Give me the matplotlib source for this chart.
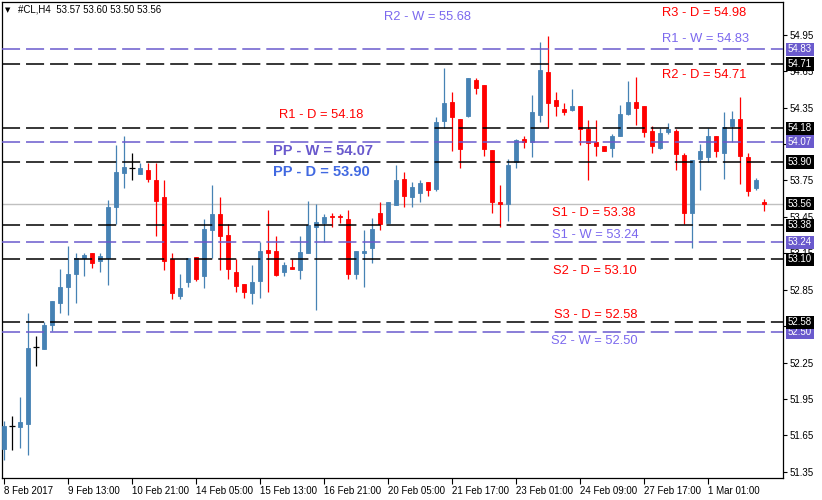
import matplotlib
matplotlib.use('Agg')
import numpy as np
import matplotlib.pyplot as plt
import matplotlib.transforms as mtransforms

plt.rcParams['font.family'] = ['Liberation Sans', 'DejaVu Sans']
plt.rcParams['lines.scale_dashes'] = False

# H4 candles, 8 Feb 2017 -> 1 Mar 2017
opens = [51.54, 51.73, 51.72, 51.74, 52.38, 52.36, 52.56, 52.74, 52.87, 52.98,
         53.11, 53.15, 53.09, 53.11, 53.53, 53.81, 53.85, 53.80, 53.84, 53.75,
         53.61, 53.10, 52.80, 52.91, 53.12, 52.96, 53.34, 53.47, 53.30, 53.00,
         52.90, 52.82, 52.92, 53.18, 53.17, 53.00, 53.04, 53.01, 53.15, 53.37,
         53.40, 53.46, 53.46, 53.43, 52.98, 53.15, 53.19, 53.48, 53.40, 53.55,
         53.76, 53.61, 53.65, 53.74, 53.68, 54.24, 54.40, 54.26, 54.28, 54.58,
         54.54, 54.00, 53.57, 53.56, 53.90, 54.09, 54.07, 54.29, 54.64, 54.41,
         54.34, 54.33, 54.36, 54.17, 54.07, 54.03, 54.02, 54.12, 54.30, 54.40,
         54.36, 54.16, 54.02, 54.15, 54.16, 53.96, 53.48, 53.93, 53.94, 54.12,
         53.98, 54.20, 54.26, 53.94, 53.69, 53.57]
highs = [51.77, 51.81, 51.97, 52.66, 52.47, 52.58, 52.76, 53.02, 53.21, 53.15,
         53.15, 53.15, 53.15, 53.59, 54.04, 54.12, 53.98, 53.89, 53.89, 53.89,
         53.75, 53.15, 52.98, 53.11, 53.12, 53.43, 53.71, 53.61, 53.39, 53.10,
         52.90, 53.05, 53.24, 53.51, 53.29, 53.08, 53.10, 53.29, 53.58, 53.56,
         53.47, 53.48, 53.47, 53.51, 53.17, 53.34, 53.44, 53.57, 53.57, 53.88,
         53.82, 53.74, 53.75, 53.74, 54.27, 54.68, 54.48, 54.26, 54.59, 54.59,
         54.54, 54.00, 53.71, 53.93, 54.09, 54.12, 54.45, 54.89, 54.94, 54.48,
         54.39, 54.50, 54.36, 54.25, 54.25, 54.03, 54.13, 54.37, 54.57, 54.60,
         54.36, 54.20, 54.18, 54.22, 54.17, 53.98, 53.92, 54.05, 54.18, 54.12,
         54.31, 54.32, 54.44, 53.98, 53.77, 53.60]
lows = [51.45, 51.53, 51.55, 51.49, 52.22, 52.36, 52.51, 52.66, 52.64, 52.74,
        52.96, 53.03, 53.00, 52.89, 53.39, 53.69, 53.75, 53.80, 53.74, 53.29,
        53.01, 52.77, 52.77, 52.87, 52.92, 52.86, 53.11, 53.01, 52.94, 52.83,
        52.78, 52.73, 52.78, 52.83, 52.96, 52.96, 53.02, 52.94, 53.15, 52.68,
        53.24, 53.37, 53.40, 52.94, 52.94, 52.87, 53.07, 53.34, 53.40, 53.55,
        53.53, 53.53, 53.57, 53.62, 53.66, 54.18, 53.99, 53.85, 54.27, 54.46,
        53.95, 53.48, 53.37, 53.42, 53.85, 54.02, 53.94, 54.23, 54.18, 54.28,
        54.29, 54.32, 54.04, 53.75, 53.95, 53.99, 53.94, 54.12, 54.29, 54.21,
        54.11, 53.98, 54.01, 54.13, 53.84, 53.39, 53.19, 53.67, 53.90, 53.94,
        53.76, 54.07, 53.72, 53.62, 53.67, 53.50]
closes = [51.73, 51.73, 51.76, 52.37, 52.38, 52.56, 52.76, 52.87, 52.98, 53.11,
          53.14, 53.07, 53.13, 53.53, 53.82, 53.86, 53.85, 53.85, 53.76, 53.58,
          53.09, 52.82, 52.86, 53.11, 52.94, 53.35, 53.47, 53.29, 53.02, 52.88,
          52.83, 52.91, 53.17, 53.15, 52.97, 53.05, 53.02, 53.16, 53.38, 53.41,
          53.45, 53.45, 53.45, 52.98, 53.17, 53.17, 53.35, 53.39, 53.57, 53.75,
          53.62, 53.70, 53.73, 53.67, 54.23, 54.39, 54.27, 54.01, 54.59, 54.51,
          54.01, 53.57, 53.56, 53.88, 54.08, 54.07, 54.31, 54.66, 54.39, 54.36,
          54.31, 54.36, 54.17, 54.06, 54.03, 53.99, 54.12, 54.30, 54.40, 54.35,
          54.15, 54.03, 54.14, 54.17, 53.97, 53.48, 53.92, 53.99, 54.12, 53.99,
          54.19, 54.26, 53.95, 53.66, 53.75, 53.56]

time_labels = ['8 Feb 2017', '9 Feb 13:00', '10 Feb 21:00', '14 Feb 05:00',
               '15 Feb 13:00', '16 Feb 21:00', '20 Feb 05:00', '21 Feb 17:00',
               '23 Feb 01:00', '24 Feb 09:00', '27 Feb 17:00', '1 Mar 01:00']

# pivot levels
level_names = ['R2 - W', 'R3 - D', 'R1 - W', 'R2 - D', 'R1 - D', 'PP - W',
               'PP - D', 'S1 - D', 'S1 - W', 'S2 - D', 'S3 - D', 'S2 - W']
level_values = [55.68, 54.98, 54.83, 54.71, 54.18, 54.07,
                53.90, 53.38, 53.24, 53.10, 52.58, 52.50]
daily_lines = [54.71, 54.18, 53.90, 53.38, 53.10, 52.58]
weekly_lines = [54.83, 54.07, 53.24, 52.50]
last_price = 53.56

BULL = '#4682B4'
BEAR = '#FF0000'
W_COL = '#6A5ACD'

W, H = 822, 500
fig = plt.figure(figsize=(W / 100, H / 100), dpi=100)
ax = fig.add_axes([2 / W, 22 / H, 781 / W, 476 / H])
ax.set_xlim(-0.25, 97.375)
ax.set_ylim(51.299, 55.22)

o = np.array(opens)
c = np.array(closes)
x = np.arange(len(o))
cols = np.where(c > o, BULL, np.where(c < o, BEAR, 'black'))

ax.vlines(x, lows, highs, colors=cols, lw=0.9, zorder=2)
body = c != o
ax.bar(x[body], np.abs(c - o)[body], bottom=np.minimum(o, c)[body], width=0.56,
       color=cols[body], edgecolor=cols[body], linewidth=0.6, zorder=3)
ax.hlines(o[~body], x[~body] - 0.4, x[~body] + 0.4, colors='black', lw=0.9, zorder=3)

# levels
ax.axhline(last_price, color='#C0C0C0', lw=1.0, zorder=1)
for v in daily_lines:
    ax.axhline(v, color='black', lw=1.1, dashes=(13, 4.3), zorder=4)
for v in weekly_lines:
    ax.axhline(v, color=W_COL, lw=1.1, dashes=(13, 4.3), zorder=4)

# level captions (pixel anchors)
label_pos = [(384, 17), (662, 13), (662, 39), (662, 75), (279, 115), (273, 151),
             (273, 172), (552, 213), (552, 235), (553, 271), (554, 315), (551, 341)]
for name, val, (px, py) in zip(level_names, level_values, label_pos):
    if name.startswith('PP'):
        col = W_COL if name.endswith('W') else '#4169E1'
        fig.text(px / W, 1 - py / H, f'{name} = {val:.2f}', color=col,
                 fontsize=10.5, fontweight='bold', va='center', ha='left')
    else:
        col = '#7B68EE' if name.endswith('W') else BEAR
        fig.text(px / W, 1 - py / H, f'{name} = {val:.2f}', color=col,
                 fontsize=9.3, va='center', ha='left')

# price axis on the right; labels hidden under the level boxes are left out
ax.yaxis.tick_right()
yt = [51.35 + 0.3 * k for k in range(13)]
ax.set_yticks(yt)
ax.set_yticklabels(['' if abs(v - 54.05) < 0.01 or abs(v - 52.55) < 0.01 else f'{v:.2f}'
                    for v in yt])
ax.tick_params(axis='y', direction='out', length=3, width=0.8, pad=2, labelsize=7)

trans = mtransforms.blended_transform_factory(ax.transAxes, ax.transData)
boxes = [(v, W_COL) for v in weekly_lines] + [(v, 'black') for v in daily_lines] + [(last_price, 'black')]
for v, fc in boxes:
    ax.text(1 + 5 / 781, v, f'{v:.2f}', transform=trans, color='white', fontsize=7,
            va='center', ha='left', clip_on=False, zorder=5,
            bbox=dict(boxstyle='square,pad=0.18', fc=fc, ec='none'))

# time axis
ax.set_xticks(np.arange(len(time_labels)) * 8)
ax.set_xticklabels(time_labels, ha='left')
ax.tick_params(axis='x', direction='out', length=4, width=0.8, pad=2, labelsize=7)

for s in ax.spines.values():
    s.set_linewidth(0.9)
    s.set_color('black')

fig.text(5 / W, 1 - 10 / H, '\u25BC', fontsize=5, family='DejaVu Sans', va='center')
fig.text(18 / W, 1 - 10 / H, '#CL,H4  53.57 53.60 53.50 53.56', fontsize=7, va='center')

fig.savefig('out.png', dpi=100)
